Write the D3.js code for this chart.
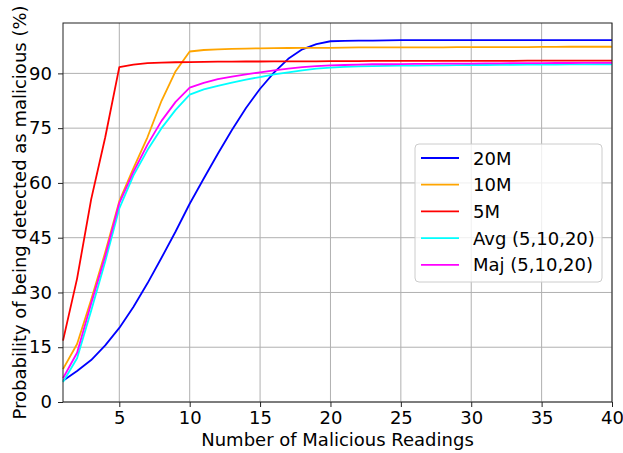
<!DOCTYPE html>
<html>
<head>
<meta charset="utf-8">
<script src="https://cdn.jsdelivr.net/npm/d3@7"></script>
<style>
  body { margin: 0; background: #fff; }
  text { font-family: "DejaVu Sans", sans-serif; fill: #000; }
</style>
</head>
<body>
<div id="chart"></div>
<script>
// Number of malicious readings (x values)
var readings = d3.range(1, 41);

// Detection probability (%) per model
var m20 = [5.8, 8.5, 11.5, 15.5, 20.3, 26, 32.5, 39.5, 46.7, 54.3, 61.2, 68, 74.5, 80.5, 85.8, 90.3, 94, 96.6, 98, 98.8,
  98.9, 99, 99, 99.05, 99.1, 99.1, 99.1, 99.1, 99.1, 99.1, 99.1, 99.1, 99.1, 99.1, 99.1, 99.1, 99.1, 99.1, 99.1, 99.1];
var m10 = [9, 15.9, 28, 41, 55, 64, 72.5, 82.5, 90.6, 96, 96.4, 96.6, 96.7, 96.8, 96.85, 96.9, 96.95, 97, 97, 97,
  97.05, 97.1, 97.1, 97.1, 97.1, 97.1, 97.15, 97.15, 97.2, 97.2, 97.2, 97.2, 97.2, 97.2, 97.25, 97.25, 97.3, 97.3, 97.3, 97.3];
var m5 = [16.8, 33.8, 55.5, 72.5, 91.7, 92.4, 92.8, 92.95, 93.05, 93.1, 93.15, 93.2, 93.2, 93.25, 93.25, 93.3, 93.3, 93.3, 93.3, 93.35,
  93.35, 93.35, 93.4, 93.4, 93.4, 93.4, 93.4, 93.4, 93.45, 93.45, 93.45, 93.45, 93.45, 93.5, 93.5, 93.5, 93.5, 93.5, 93.5, 93.5];
var avg = [5.5, 12, 25, 38.5, 53, 62, 69, 75, 80, 84.2, 85.6, 86.6, 87.5, 88.3, 89, 89.7, 90.3, 90.8, 91.3, 91.6,
  91.8, 91.9, 92, 92.05, 92.1, 92.15, 92.2, 92.2, 92.25, 92.3, 92.3, 92.35, 92.35, 92.4, 92.4, 92.4, 92.45, 92.45, 92.5, 92.5];
var maj = [6.5, 13.5, 27, 40, 54.5, 63, 70.5, 77, 82.2, 86.1, 87.4, 88.4, 89.1, 89.7, 90.3, 90.8, 91.3, 91.7, 92, 92.2,
  92.3, 92.4, 92.5, 92.5, 92.55, 92.6, 92.6, 92.65, 92.7, 92.7, 92.75, 92.75, 92.8, 92.8, 92.8, 92.85, 92.85, 92.9, 92.9, 92.9];

var seriesNames = ["20M", "10M", "5M", "Avg (5,10,20)", "Maj (5,10,20)"];
var seriesColors = ["#0000ff", "#ffa500", "#ff0000", "#00ffff", "#ff00ff"];
var seriesValues = [m20, m10, m5, avg, maj];

var xTicks = [5, 10, 15, 20, 25, 30, 35, 40];
var yTicks = [0, 15, 30, 45, 60, 75, 90];

// SVG area
var svgWidth = 623;
var svgHeight = 453;
var margin = { top: 23, right: 11, bottom: 51, left: 63 };
var chartWidth = svgWidth - margin.left - margin.right;
var chartHeight = svgHeight - margin.top - margin.bottom;

var svg = d3.select("#chart")
  .append("svg")
  .attr("width", svgWidth)
  .attr("height", svgHeight);

var chartGroup = svg.append("g")
  .attr("transform", `translate(${margin.left}, ${margin.top})`);

var xScale = d3.scaleLinear().domain([1, 40]).range([0, chartWidth]);
var yScale = d3.scaleLinear().domain([0, 103.8]).range([chartHeight, 0]);

// grid lines
chartGroup.append("g")
  .selectAll("line")
  .data(xTicks)
  .enter()
  .append("line")
  .attr("x1", d => xScale(d)).attr("x2", d => xScale(d))
  .attr("y1", 0).attr("y2", chartHeight)
  .attr("stroke", "#b0b0b0").attr("stroke-width", 1);

chartGroup.append("g")
  .selectAll("line")
  .data(yTicks)
  .enter()
  .append("line")
  .attr("x1", 0).attr("x2", chartWidth)
  .attr("y1", d => yScale(d)).attr("y2", d => yScale(d))
  .attr("stroke", "#b0b0b0").attr("stroke-width", 1);

// axes
var bottomAxis = d3.axisBottom(xScale).tickValues(xTicks).tickSize(5).tickPadding(4);
var leftAxis = d3.axisLeft(yScale).tickValues(yTicks).tickSize(5).tickPadding(6);

var xAxis = chartGroup.append("g")
  .attr("transform", `translate(0, ${chartHeight})`)
  .call(bottomAxis);
var yAxis = chartGroup.append("g").call(leftAxis);

[xAxis, yAxis].forEach(function(ax) {
  ax.select(".domain").remove();
  ax.selectAll("line").attr("stroke", "#222").attr("stroke-width", 1);
  ax.selectAll("text").style("font-size", "18px").style("font-family", "DejaVu Sans");
});

// lines
var line = d3.line()
  .x((d, i) => xScale(readings[i]))
  .y(d => yScale(d));

chartGroup.append("g")
  .selectAll("path")
  .data(seriesValues)
  .enter()
  .append("path")
  .attr("d", d => line(d))
  .attr("fill", "none")
  .attr("stroke", (d, i) => seriesColors[i])
  .attr("stroke-width", 1.8)
  .attr("stroke-linejoin", "round");

// frame
chartGroup.append("rect")
  .attr("width", chartWidth).attr("height", chartHeight)
  .attr("fill", "none").attr("stroke", "#222").attr("stroke-width", 1);

// legend
var legend = svg.append("g").attr("transform", "translate(415, 144)");
legend.append("rect")
  .attr("width", 187).attr("height", 138)
  .attr("rx", 4)
  .attr("fill", "#fff").attr("fill-opacity", 0.8)
  .attr("stroke", "#ccc");

var items = legend.selectAll("g.item")
  .data(seriesNames)
  .enter()
  .append("g")
  .attr("class", "item")
  .attr("transform", (d, i) => `translate(0, ${14 + i * 26.7})`);
items.append("line")
  .attr("x1", 6).attr("x2", 44)
  .attr("stroke", (d, i) => seriesColors[i])
  .attr("stroke-width", 1.8);
items.append("text")
  .attr("x", 58).attr("y", 6.5)
  .style("font-size", "18px")
  .text(d => d);

// axis labels
svg.append("text")
  .attr("x", margin.left + chartWidth / 2)
  .attr("y", 446)
  .attr("text-anchor", "middle")
  .style("font-size", "18px")
  .text("Number of Malicious Readings");

svg.append("text")
  .attr("transform", `translate(26, ${margin.top + chartHeight / 2}) rotate(-90)`)
  .attr("text-anchor", "middle")
  .style("font-size", "18px")
  .text("Probability of being detected as malicious (%)");
</script>
</body>
</html>
